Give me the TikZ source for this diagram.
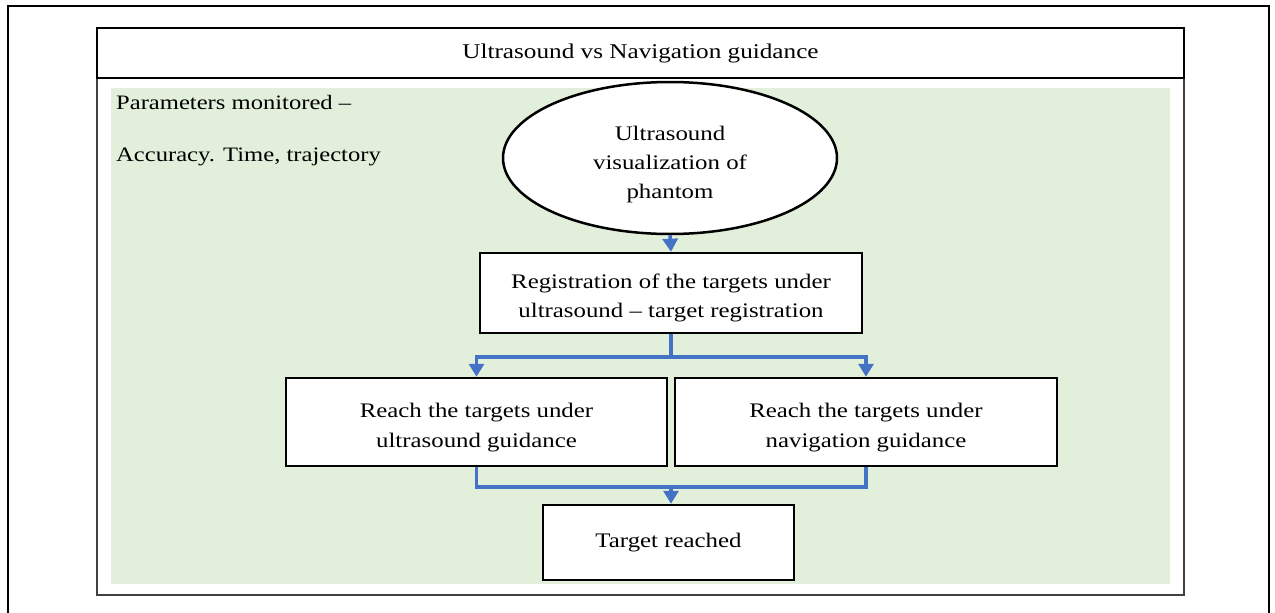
\documentclass[tikz,border=0pt]{standalone}
\usepackage{fontspec}
\setmainfont{Liberation Serif}[FakeStretch=1.2]
\usetikzlibrary{arrows.meta,shapes.geometric}
\definecolor{bggreen}{HTML}{E2EFDA}
\definecolor{arrblue}{HTML}{4472C4}
\newcommand\mytstrut[1]{\rule{0pt}{#1}}
\begin{document}
\begin{tikzpicture}[x=1pt,y=-1pt,
  boxnode/.style={draw=black,line width=2.5pt,fill=white,align=center,inner sep=0pt,
    font=\fontsize{20.7}{29.5}\selectfont},
  conn/.style={draw=arrblue,line width=3.6pt},
  arr/.style={conn,-{Triangle[length=13pt,width=15pt]}},
  lbl/.style={anchor=west,inner sep=0pt,font=\fontsize{20.5}{24}\selectfont}]
\useasboundingbox (0,0) rectangle (1275,613);
% outer frame
\draw[line width=1.6pt] (8,613) -- (8,6) -- (1269,6) -- (1269,613);
% inner frame
\draw[line width=2pt,draw=black!75] (97,28) rectangle (1184,595);
\fill[bggreen] (111,88) rectangle (1170,584);
% title
\node[draw=black,line width=2.8pt,minimum width=1087pt,minimum height=50pt,inner sep=0pt,
  font=\fontsize{21}{24}\selectfont] (title) at (640.5,53) {Ultrasound vs Navigation guidance};
\node[lbl] (p1) at (116,102) {Parameters monitored –};
\node[lbl] (p2) at (116,157) {Accuracy. Time, trajectory};
% ellipse
\node[ellipse,draw=black,line width=2.5pt,fill=white,minimum width=334pt,minimum height=152pt,
  align=center,inner sep=0pt,font=\fontsize{20.7}{29}\selectfont] (us) at (670,158)
  {\mytstrut{27pt}Ultrasound\\visualization of\\phantom};
\node[boxnode,minimum width=382pt,minimum height=80pt] (reg) at (671,293)
  {\mytstrut{24.5pt}Registration of the targets under\\ultrasound – target registration};
\node[boxnode,minimum width=381pt,minimum height=88pt] (lt) at (476.5,422)
  {\mytstrut{25pt}Reach the targets under\\ultrasound guidance};
\node[boxnode,minimum width=382pt,minimum height=88pt] (rt) at (866,422)
  {\mytstrut{25pt}Reach the targets under\\navigation guidance};
\node[boxnode,minimum width=251pt,minimum height=75pt] (tr) at (668.5,542.5)
  {Target reached};
% connectors
\coordinate (b1) at (671,357);
\coordinate (b2) at (671,487);
\draw[arr] (us.south) -- (reg.north);
\draw[conn] (reg.south) -- (b1);
\draw[arr] (b1) -| (lt.north);
\draw[arr] (b1) -| (rt.north);
\draw[conn] (lt.south) |- (b2);
\draw[conn] (rt.south) |- (b2);
\draw[arr] (b2) -- (b2 |- tr.north);
\end{tikzpicture}
\end{document}
